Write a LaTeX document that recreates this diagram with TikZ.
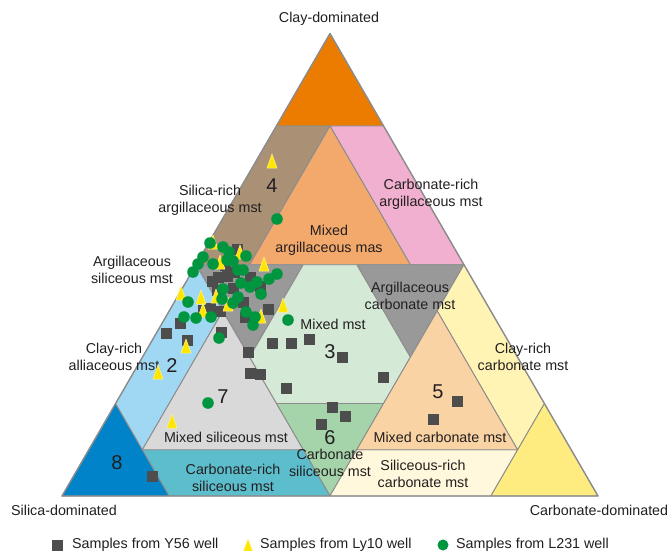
\documentclass[tikz,border=0pt]{standalone}
\usepackage{fontspec}
\setmainfont{Liberation Sans}
\definecolor{lc}{RGB}{140,140,140}
\definecolor{cOr}{RGB}{236,124,0}
\definecolor{cBr}{RGB}{170,145,118}
\definecolor{cPk}{RGB}{241,176,208}
\definecolor{cMa}{RGB}{243,169,108}
\definecolor{cGy}{RGB}{153,153,153}
\definecolor{cMi}{RGB}{212,233,214}
\definecolor{cGr}{RGB}{165,212,170}
\definecolor{cBl}{RGB}{0,131,201}
\definecolor{cLb}{RGB}{160,216,244}
\definecolor{cTe}{RGB}{92,190,204}
\definecolor{cLg}{RGB}{217,217,217}
\definecolor{cYe}{RGB}{255,236,128}
\definecolor{cPy}{RGB}{255,244,180}
\definecolor{cCr}{RGB}{255,248,220}
\definecolor{cPe}{RGB}{249,211,163}
\definecolor{sqc}{RGB}{77,77,77}
\definecolor{trc}{RGB}{255,230,0}
\definecolor{cic}{RGB}{0,150,64}
\definecolor{txc}{RGB}{35,31,32}
\begin{document}
\begin{tikzpicture}[x=1pt,y=-1pt,
  zone/.style={draw=lc, line width=0.9pt, line join=round},
  lab/.style={font=\fontsize{14.3}{17}\selectfont, align=center, inner sep=0pt, text=txc},
  num/.style={font=\fontsize{20}{22}\selectfont, inner sep=0pt, text=txc},
  sqm/.style={fill=sqc},
  trm/.style={fill=trc, draw=trc!45, line width=0.5pt, line join=round},
  cim/.style={fill=cic}]
\useasboundingbox (0,0) rectangle (670,551);
\coordinate (A) at (330,33.5);
\coordinate (L) at (62,496);
\coordinate (R) at (598,496);
\foreach \c/\s/\k in {8/2/0,8/0/2,8/1/1,5/5/0,5/4/1,5/3/2,5/2/3,5/1/4,5/0/5,
  2/8/0,0/8/2,1/8/1,4/5/1,3/5/2,2/5/3,1/5/4,0/5/5,
  2/0/8,0/2/8,1/1/8,4/1/5,3/2/5,2/3/5,1/4/5}
  \coordinate (p\c\s\k) at (barycentric cs:A=\c,L=\s,R=\k);
% zones
\filldraw[zone, fill=cOr] (A) -- (p820) -- (p802) -- cycle;
\filldraw[zone, fill=cBr] (p820) -- (p811) -- (p541) -- (p550) -- cycle;
\filldraw[zone, fill=cPk] (p811) -- (p802) -- (p505) -- (p514) -- cycle;
\filldraw[zone, fill=cMa] (p811) -- (p514) -- (p541) -- cycle;
\filldraw[zone, fill=cGy] (p550) -- (p532) -- (p352) -- cycle;
\filldraw[zone, fill=cGy] (p523) -- (p505) -- (p325) -- cycle;
\filldraw[zone, fill=cMi] (p532) -- (p523) -- (p325) -- (p235) -- (p253) -- (p352) -- cycle;
\filldraw[zone, fill=cGr] (p253) -- (p235) -- (p055) -- cycle;
\filldraw[zone, fill=cBl] (L) -- (p280) -- (p082) -- cycle;
\filldraw[zone, fill=cLb] (p280) -- (p550) -- (p451) -- (p181) -- cycle;
\filldraw[zone, fill=cTe] (p181) -- (p154) -- (p055) -- (p082) -- cycle;
\filldraw[zone, fill=cLg] (p181) -- (p451) -- (p154) -- cycle;
\filldraw[zone, fill=cYe] (R) -- (p208) -- (p028) -- cycle;
\filldraw[zone, fill=cPy] (p505) -- (p208) -- (p118) -- (p415) -- cycle;
\filldraw[zone, fill=cCr] (p118) -- (p028) -- (p055) -- (p145) -- cycle;
\filldraw[zone, fill=cPe] (p415) -- (p118) -- (p145) -- cycle;
\draw[zone, line width=1.3pt] (A) -- (L) -- (R) -- cycle;
% labels
\node[lab] (tClay) at (329,19) {Clay-dominated};
\node[lab] (tSil) at (64,510) {Silica-dominated};
\node[lab] (tCarb) at (599,510) {Carbonate-dominated};
\node[lab] (l4) at (210,200) {Silica-rich\\argillaceous mst};
\node[lab] (lCRA) at (431,194) {Carbonate-rich\\argillaceous mst};
\node[lab] (lMA) at (329,240) {Mixed\\argillaceous mas};
\node[lab] (lAS) at (132,270) {Argillaceous\\siliceous mst};
\node[lab] (l2) at (114,357) {Clay-rich\\alliaceous mst};
\node[lab] (lAC) at (410,296) {Argillaceous\\carbonate mst};
\node[lab] (l3) at (333,324) {Mixed mst};
\node[lab] (lCRC) at (523,357) {Clay-rich\\carbonate mst};
\node[lab] (l7) at (226,437) {Mixed siliceous mst};
\node[lab] (l6) at (330,463) {Carbonate\\siliceous mst};
\node[lab] (l5) at (440,437) {Mixed carbonate mst};
\node[lab] (lSRC) at (423,474) {Siliceous-rich\\carbonate mst};
\node[lab] (lCRS) at (233,478) {Carbonate-rich\\siliceous mst};
\node[num] (n4) at (272,186) {4};
\node[num] (n2) at (172,366) {2};
\node[num] (n3) at (330,352) {3};
\node[num] (n5) at (438,392) {5};
\node[num] (n7) at (223,397) {7};
\node[num] (n6) at (330,438) {6};
\node[num] (n8) at (117,463) {8};
% samples Y56
\foreach \x/\y in {237/249,212/281,218/277,227/276,250/277,260/286,233/288,268/309,
  203/310,210/308,220/311,245/317,243/302,180/323,166/333,187/340,221/332,248/352,
  272/343,291/343,309/339,342/357,250/373,260/374,286/388,383/377,332/407,345/416,
  321/424,457/401,433/419,152/476,225/265,234/272,217/290}
  \fill[sqm] (\x-5.5,\y-5.5) rectangle +(11,11);
% samples Ly10
\foreach \x/\y in {272/162,264/265,181/294,201/298,216/297,228/305,220/263,213/243,
  240/253,283/306,261/317,203/311,186/347,158/373,172/422}
  \filldraw[trm] (\x,\y-8) -- (\x+5,\y+6) -- (\x-5,\y+6) -- cycle;
% samples L231
\foreach \x/\y in {210/243,223/247,229/252,246/256,203/257,198/264,193/272,213/264,
  227/260,233/261,238/270,243/270,277/274,269/279,257/282,250/287,241/283,223/289,
  222/299,238/297,233/303,261/294,188/302,184/317,196/318,211/317,246/312,255/317,
  253/325,288/320,219/338,208/403,277/219}
  \fill[cim] (\x,\y) circle[radius=5.8pt];
% legend
\fill[sqm] (51.5,539.5) rectangle +(11,11);
\node[lab, anchor=west] (lgY) at (72,545) {Samples from Y56 well};
\filldraw[trm] (248,539) -- (252.5,551) -- (243.5,551) -- cycle;
\node[lab, anchor=west] (lgL) at (260,545) {Samples from Ly10 well};
\fill[cim] (443,545) circle[radius=5.5pt];
\node[lab, anchor=west] (lgC) at (456,545) {Samples from L231 well};
\end{tikzpicture}
\end{document}
